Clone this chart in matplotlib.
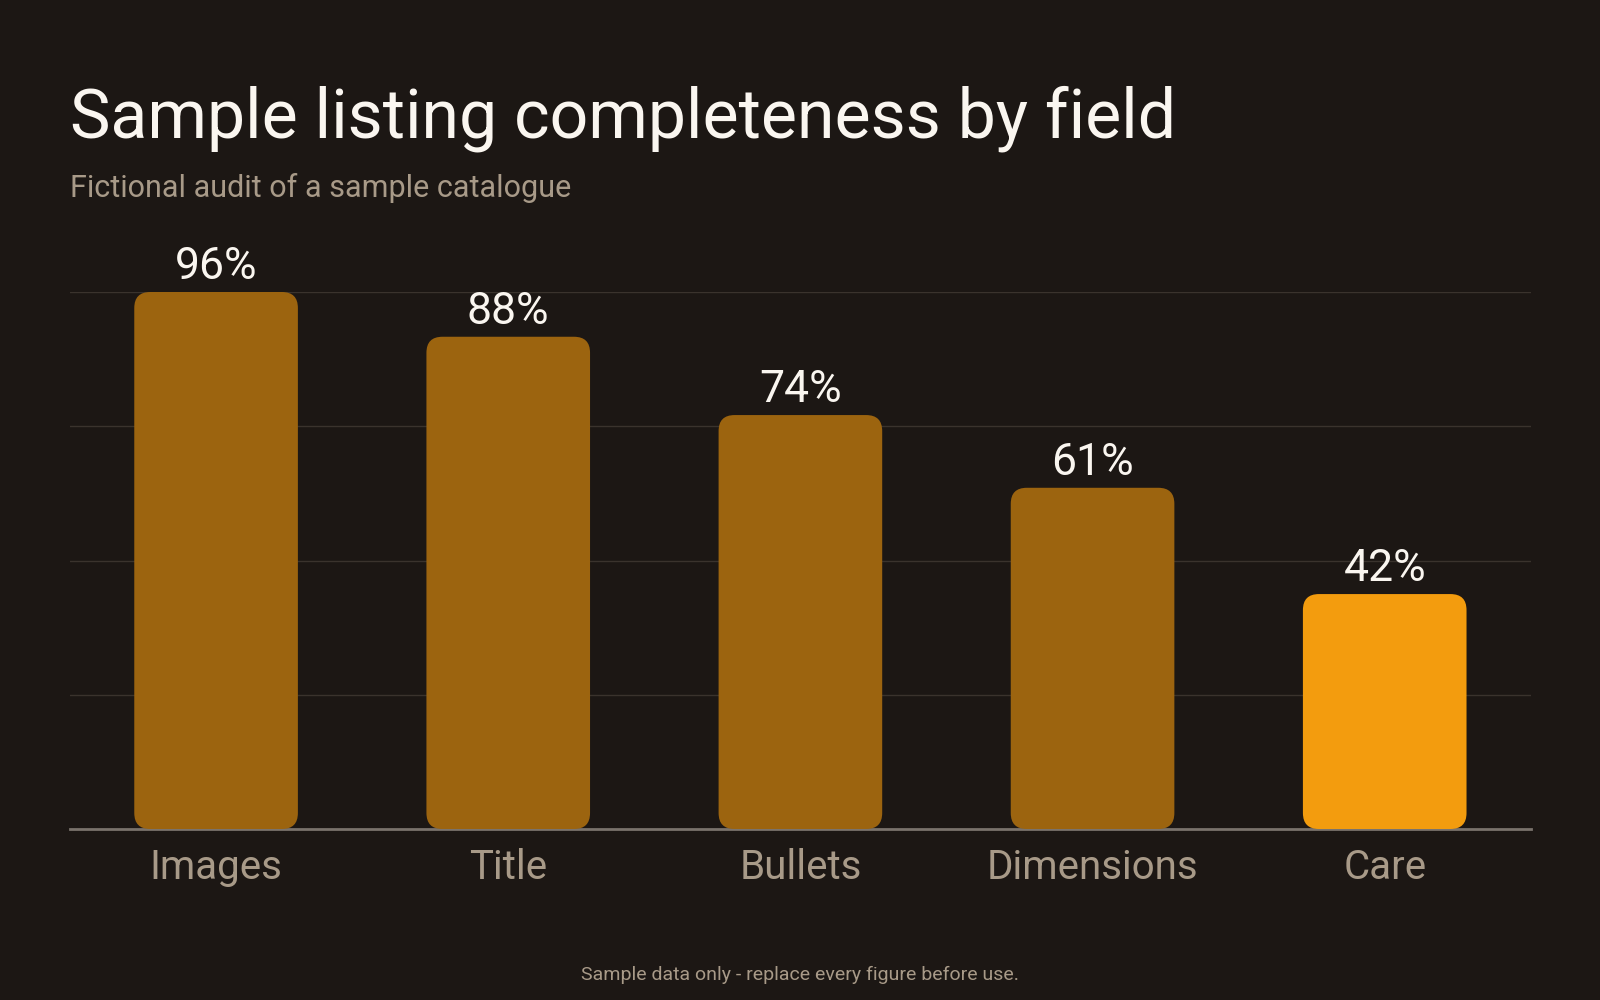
import matplotlib
matplotlib.use("Agg")
import matplotlib.pyplot as plt
from matplotlib.patches import FancyBboxPatch

# data
fields = ["Images", "Title", "Bullets", "Dimensions", "Care"]
completeness = [96, 88, 74, 61, 42]
highlight = "Care"
grid_ticks = [24, 48, 72, 96]

bg = "#1c1714"
bar_col = "#9c640f"
hi_col = "#f39c0e"
muted = "#a89a88"
white = "#faf6f0"

plt.rcParams['font.family'] = ['Roboto', 'DejaVu Sans']

fig = plt.figure(figsize=(16, 10), dpi=100, facecolor=bg)
ax = fig.add_axes([0.04375, 0.171, 0.913, 0.537], facecolor=bg)
ax.set_xlim(-0.5, len(fields) - 0.5)
ax.set_ylim(0, 96)

for t in grid_ticks:
    ax.axhline(t, color="#3a332d", lw=1, zorder=0)
ax.axhline(0, color="#7a736c", lw=2, zorder=1, clip_on=False)

bars = ax.bar(range(len(fields)), completeness, width=0.56)

# swap plain bars for rounded ones
fig.canvas.draw()
bb = ax.get_window_extent()
x_per_px = (ax.get_xlim()[1] - ax.get_xlim()[0]) / bb.width
y_per_px = (ax.get_ylim()[1] - ax.get_ylim()[0]) / bb.height
r = 16 * x_per_px
for name, b in zip(fields, bars):
    b.set_visible(False)
    col = hi_col if name == highlight else bar_col
    p = FancyBboxPatch((b.get_x(), 0), b.get_width(), b.get_height(),
                       boxstyle="round,pad=0,rounding_size=%f" % r,
                       mutation_aspect=y_per_px / x_per_px,
                       fc=col, ec="none", zorder=2, clip_on=False)
    ax.add_patch(p)
    ax.annotate("%d%%" % b.get_height(), (b.get_x() + b.get_width() / 2, b.get_height()),
                xytext=(0, 13), textcoords="offset pixels", ha="center", va="baseline",
                color=white, fontsize=32, annotation_clip=False)

ax.set_xticks(range(len(fields)))
ax.set_xticklabels(fields, color=muted, fontsize=29)
ax.tick_params(axis="x", length=0, pad=14)
ax.set_yticks([])
for s in ax.spines.values():
    s.set_visible(False)

fig.text(0.044, 0.862, "Sample listing completeness by field", color=white,
         fontsize=49, va="baseline")
fig.text(0.044, 0.803, "Fictional audit of a sample catalogue", color=muted,
         fontsize=22, va="baseline")
fig.text(0.5, 0.02, "Sample data only - replace every figure before use.", color=muted,
         fontsize=14, ha="center", va="baseline")

fig.savefig("out.png", dpi=100, facecolor=bg)
